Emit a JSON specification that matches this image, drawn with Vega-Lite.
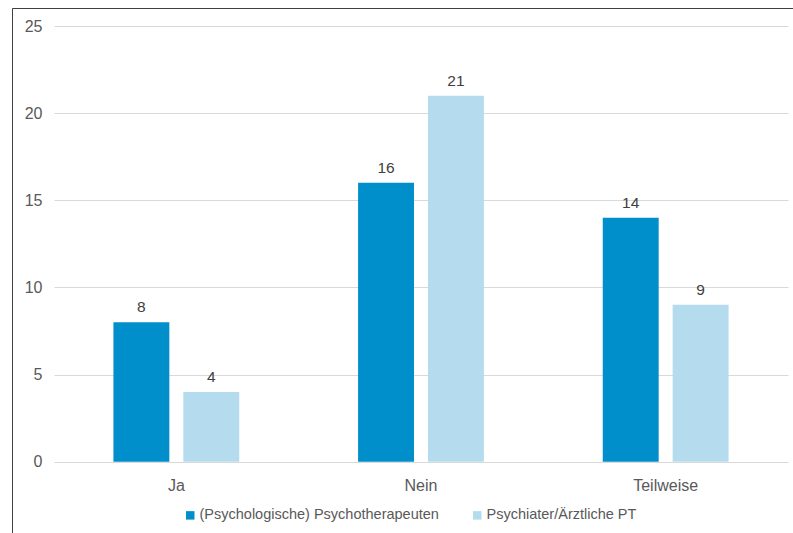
{
  "$schema": "https://vega.github.io/schema/vega-lite/v6.json",
  "width": 781,
  "height": 525,
  "autosize": {"type": "none"},
  "padding": {"left": 12, "top": 8, "right": 0, "bottom": 0},
  "background": "white",
  "config": {
    "view": {"stroke": "#404040", "strokeWidth": 1, "strokeDash": [781, 1306, 525]},
    "font": "Liberation Sans"
  },
  "data": {
    "values": [
      {"Antwort": "Ja", "Gruppe": "(Psychologische) Psychotherapeuten", "Anzahl": 8},
      {"Antwort": "Ja", "Gruppe": "Psychiater/Ärztliche PT", "Anzahl": 4},
      {"Antwort": "Nein", "Gruppe": "(Psychologische) Psychotherapeuten", "Anzahl": 16},
      {"Antwort": "Nein", "Gruppe": "Psychiater/Ärztliche PT", "Anzahl": 21},
      {"Antwort": "Teilweise", "Gruppe": "(Psychologische) Psychotherapeuten", "Anzahl": 14},
      {"Antwort": "Teilweise", "Gruppe": "Psychiater/Ärztliche PT", "Anzahl": 9}
    ]
  },
  "encoding": {
    "x": {
      "field": "Antwort",
      "type": "nominal",
      "sort": ["Ja", "Nein", "Teilweise"],
      "scale": {"range": [42, 776], "paddingInner": 0, "paddingOuter": 0},
      "axis": {
        "title": null,
        "domain": false,
        "ticks": false,
        "tickSize": 0,
        "labelAngle": 0,
        "labelBaseline": "middle",
        "labelPadding": -48,
        "labelFontSize": 16,
        "labelColor": "#595959",
        "grid": false
      }
    },
    "xOffset": {
      "field": "Gruppe",
      "type": "nominal",
      "sort": ["(Psychologische) Psychotherapeuten", "Psychiater/Ärztliche PT"],
      "scale": {"paddingInner": 0.2, "paddingOuter": 0.85}
    },
    "y": {
      "field": "Anzahl",
      "type": "quantitative",
      "scale": {"domain": [-4.091, 26.033], "nice": false, "zero": false},
      "axis": {
        "title": null,
        "values": [0, 5, 10, 15, 20, 25],
        "domain": false,
        "ticks": false,
        "tickSize": 0,
        "labelPadding": -30,
        "labelFontSize": 16,
        "labelColor": "#595959",
        "grid": true,
        "gridColor": "#D9D9D9",
        "gridWidth": 1
      }
    }
  },
  "layer": [
    {
      "mark": {"type": "bar"},
      "encoding": {
        "y2": {"datum": 0},
        "color": {
          "field": "Gruppe",
          "type": "nominal",
          "sort": ["(Psychologische) Psychotherapeuten", "Psychiater/Ärztliche PT"],
          "scale": {"range": ["#008FCB", "#B4DCEE"]},
          "legend": {
            "title": null,
            "orient": "none",
            "direction": "horizontal",
            "legendX": 171,
            "legendY": 500,
            "padding": 0,
            "symbolType": "square",
            "symbolSize": 72,
            "symbolStrokeWidth": 0,
            "labelOffset": 2,
            "labelLimit": 500,
            "columnPadding": 31,
            "labelFontSize": 14.5,
            "labelColor": "#595959"
          }
        }
      }
    },
    {
      "mark": {"type": "text", "dy": -15, "baseline": "middle", "fontSize": 15.5, "color": "#404040"},
      "encoding": {
        "text": {"field": "Anzahl", "type": "quantitative"}
      }
    }
  ]
}
